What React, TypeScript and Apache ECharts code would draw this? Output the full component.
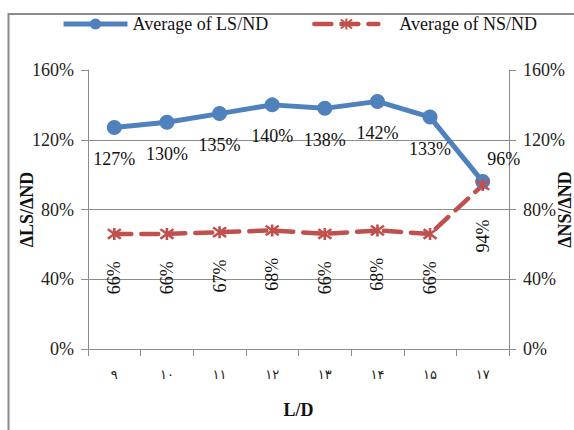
import React, { useEffect, useRef } from "react";
import * as echarts from "echarts";

// L/D ratios, written with Persian digits
const categories = ["۹", "۱۰", "۱۱", "۱۲", "۱۳", "۱۴", "۱۵", "۱۷"];
// Averages in percent
const lsNd = [127, 130, 135, 140, 138, 142, 133, 96];
const nsNd = [66, 66, 67, 68, 66, 68, 66, 94];

const yTicks = { min: 0, max: 160, interval: 40 };

const SERIF = "'Liberation Serif', 'Times New Roman', serif";
const BLUE = "#4F81BD";
const RED = "#C0504D";
const AXIS_GRAY = "#8c8c8c";

// Asterisk marker: X with a vertical stroke
const STAR = "path://M0,1L10,9M10,1L0,9M5,0L5,10";

export default function App() {
  const ref = useRef<HTMLDivElement>(null);

  useEffect(() => {
    if (!ref.current) return;
    const chart = echarts.init(ref.current, null, { renderer: "svg" });

    const lsData = lsNd.map((v, i) =>
      i === lsNd.length - 1
        ? { value: v, label: { position: "top", distance: 6, offset: [21, 0] } }
        : v
    );
    const nsData = nsNd.map((v, i) =>
      i === nsNd.length - 1 ? { value: v, label: { distance: 26 } } : v
    );

    chart.setOption({
      animation: false,
      backgroundColor: "#ffffff",
      textStyle: { fontFamily: SERIF },
      graphic: [
        {
          type: "rect",
          shape: { x: 8.5, y: 14, width: 700, height: 600 },
          style: { fill: "none", stroke: "#8a8a8a", lineWidth: 2 },
          silent: true,
        },
      ],
      legend: {
        top: 10,
        left: 56,
        itemWidth: 64,
        itemHeight: 14,
        itemGap: 44,
        textStyle: { fontFamily: SERIF, fontSize: 18, color: "#111" },
        data: [
          { name: "Average of LS/ND", lineStyle: { width: 5 } },
          {
            name: "Average of NS/ND",
            lineStyle: { width: 4.5 },
            textStyle: { padding: [0, 0, 0, 16] },
          },
        ],
      },
      grid: {
        left: 88,
        right: 65,
        top: 70,
        bottom: 81,
        containLabel: false,
        outerBoundsMode: "none",
      },
      xAxis: {
        type: "category",
        data: categories,
        name: "L/D",
        nameLocation: "middle",
        nameGap: 52,
        nameMoveOverlap: false,
        nameTextStyle: { fontFamily: SERIF, fontSize: 18, fontWeight: "bold", color: "#111" },
        axisLine: { lineStyle: { color: AXIS_GRAY, width: 1 } },
        axisTick: { show: true, length: 7, lineStyle: { color: AXIS_GRAY } },
        axisLabel: { fontFamily: "'DejaVu Sans', sans-serif", fontSize: 13, color: "#222", margin: 19 },
        splitLine: { show: false },
      },
      yAxis: [
        {
          type: "value",
          ...yTicks,
          position: "left",
          name: "ΔLS/ΔND",
          nameLocation: "middle",
          nameRotate: 90,
          nameGap: 52,
          nameMoveOverlap: false,
          nameTextStyle: { fontFamily: SERIF, fontSize: 18, fontWeight: "bold", color: "#111" },
          axisLine: { show: true, lineStyle: { color: AXIS_GRAY } },
          axisTick: { show: true, length: 7, lineStyle: { color: AXIS_GRAY } },
          axisLabel: { formatter: "{value}%", fontFamily: SERIF, fontSize: 18, color: "#222", margin: 14 },
          splitLine: { show: true, showMaxLine: false, lineStyle: { color: AXIS_GRAY } },
        },
        {
          type: "value",
          ...yTicks,
          position: "right",
          name: "ΔNS/ΔND",
          nameLocation: "middle",
          nameRotate: 90,
          nameGap: 47,
          nameMoveOverlap: false,
          nameTextStyle: { fontFamily: SERIF, fontSize: 18, fontWeight: "bold", color: "#111" },
          axisLine: { show: true, lineStyle: { color: AXIS_GRAY } },
          axisTick: { show: true, length: 7, lineStyle: { color: AXIS_GRAY } },
          axisLabel: { formatter: "{value}%", fontFamily: SERIF, fontSize: 18, color: "#222", margin: 14 },
          splitLine: { show: false },
        },
      ],
      series: [
        {
          name: "Average of LS/ND",
          type: "line",
          yAxisIndex: 0,
          data: lsData,
          symbol: "circle",
          symbolSize: 15,
          lineStyle: { color: BLUE, width: 5 },
          itemStyle: { color: BLUE, borderWidth: 0 },
          label: {
            show: true,
            position: "bottom",
            distance: 15,
            formatter: "{c}%",
            fontFamily: SERIF,
            fontSize: 18,
            color: "#111",
          },
        },
        {
          name: "Average of NS/ND",
          type: "line",
          yAxisIndex: 1,
          data: nsData,
          symbol: STAR,
          symbolSize: [13, 12],
          lineStyle: { color: RED, width: 4.5, type: [17, 10], cap: "round" },
          itemStyle: { color: "none", borderColor: RED, borderWidth: 2.5 },
          label: {
            show: true,
            position: "bottom",
            distance: 19,
            rotate: 90,
            align: "right",
            verticalAlign: "middle",
            formatter: "{c}%",
            fontFamily: SERIF,
            fontSize: 18,
            color: "#111",
          },
        },
      ],
    });

    return () => chart.dispose();
  }, []);

  return (
    <div
      ref={ref}
      style={{ position: "fixed", left: 0, top: 0, width: 574, height: 430, background: "#fff" }}
    />
  );
}
